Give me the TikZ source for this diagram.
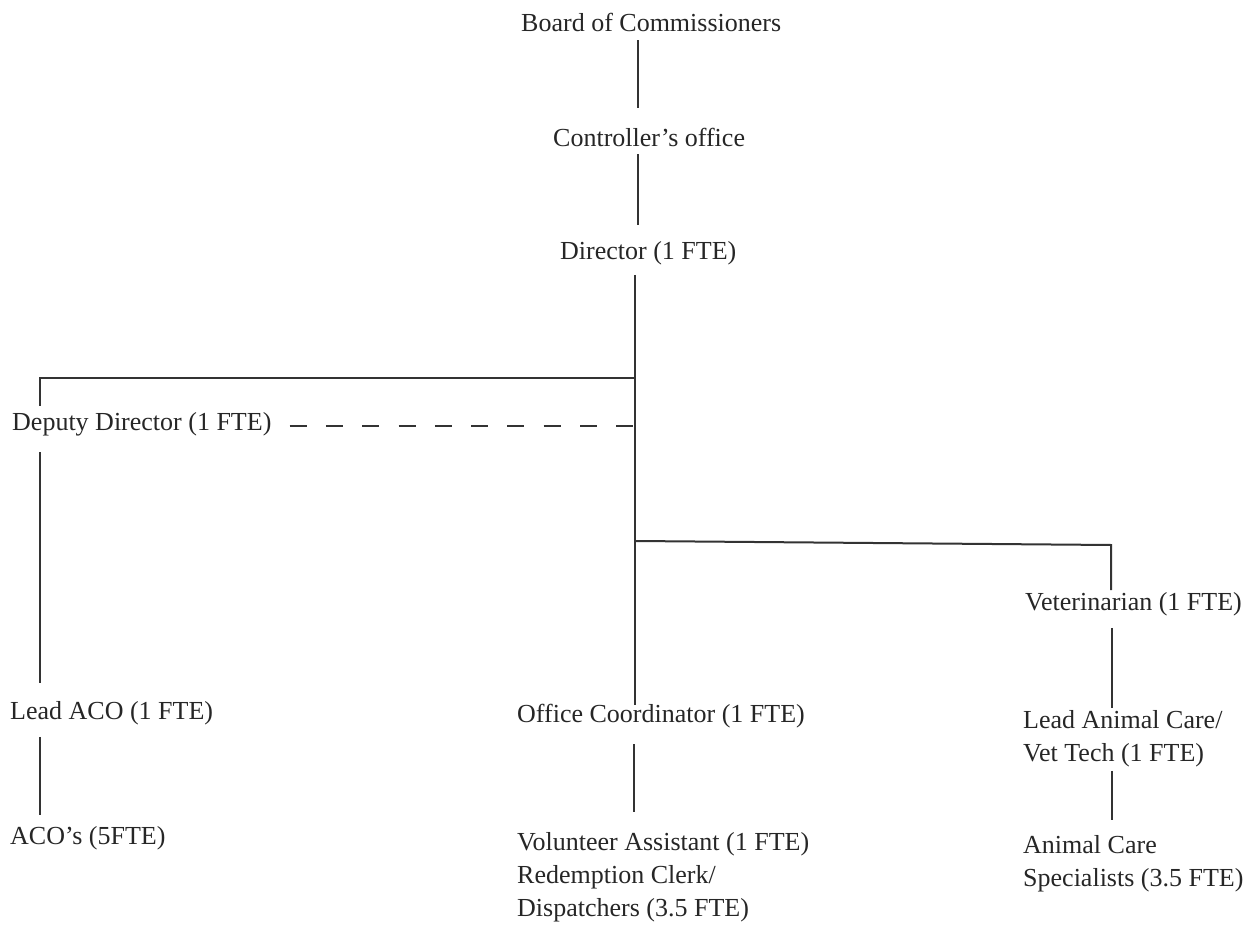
\documentclass[tikz,border=0pt]{standalone}
\usepackage{fontspec}
\setmainfont{Liberation Serif}
\begin{document}
\begin{tikzpicture}[x=1pt,y=-1pt,
  lbl/.style={anchor=west,inner sep=0pt,font=\fontsize{26}{33}\selectfont,text=black!85},
  mlbl/.style={anchor=north west,inner sep=0pt,align=left,font=\fontsize{26}{33}\selectfont,text=black!85},
  conn/.style={draw=black!80,line width=2pt},
  dconn/.style={draw=black!80,line width=2pt,dash pattern=on 17pt off 19.3pt}]
\useasboundingbox (0,0) rectangle (1252,925);
\node[lbl] (board) at (521,22) {Board of Commissioners};
\node[lbl] (ctrl) at (553,137) {Controller’s office};
\node[lbl] (dir) at (560,253) {Director (1 FTE)};
\node[lbl] (dep) at (12,424) {Deputy Director (1 FTE)};
\node[lbl] (lead) at (10,713) {Lead ACO (1 FTE)};
\node[lbl] (aco) at (10,838) {ACO’s (5FTE)};
\node[lbl] (office) at (517,716) {Office Coordinator (1 FTE)};
\node[mlbl] (vol) at (517,832) {Volunteer Assistant (1 FTE)\\Redemption Clerk/\\Dispatchers (3.5 FTE)};
\node[lbl] (vet) at (1025,604) {Veterinarian (1 FTE)};
\node[mlbl] (lac) at (1023,710) {Lead Animal Care/\\Vet Tech (1 FTE)};
\node[mlbl] (acs) at (1023,835) {Animal Care\\Specialists (3.5 FTE)};
\coordinate (jdep) at (634,378);
\coordinate (jvet) at (636,541);
\coordinate (cdep) at (40,378);
\coordinate (cvet) at (1111,545);
% vertical main spine
\draw[conn] (board.south -| 638,0) ++(0,9) coordinate (b1) -- (b1 |- 0,108);
\draw[conn] (ctrl.south -| 638,0) ++(0,8) coordinate (c1) -- (c1 |- 0,225);
\draw[conn] (dir.south -| 635,0) ++(0,10) coordinate (d1) -- (d1 |- 0,705);
% deputy branch
\draw[conn] (jdep) -- (cdep) -- (cdep |- 0,406);
\draw[dconn] (dep.east) ++(18,2) coordinate (dd) -- (dd -| jdep);
\draw[conn] (dep.south -| cdep) ++(0,16) coordinate (e1) -- (e1 |- 0,683);
\draw[conn] (lead.south -| cdep) ++(0,12) coordinate (f1) -- (f1 |- 0,815);
% vet branch
\draw[conn] (jvet) -- (cvet) -- (cvet |- 0,590);
\draw[conn] (vet.south -| 1112,0) ++(0,12) coordinate (g1) -- (g1 |- 0,708);
\draw[conn] (lac.south -| 1112,0) ++(0,4) coordinate (h1) -- (h1 |- 0,820);
% office
\draw[conn] (office.south -| 634,0) ++(0,16) coordinate (k1) -- (k1 |- 0,812);
\end{tikzpicture}
\end{document}
